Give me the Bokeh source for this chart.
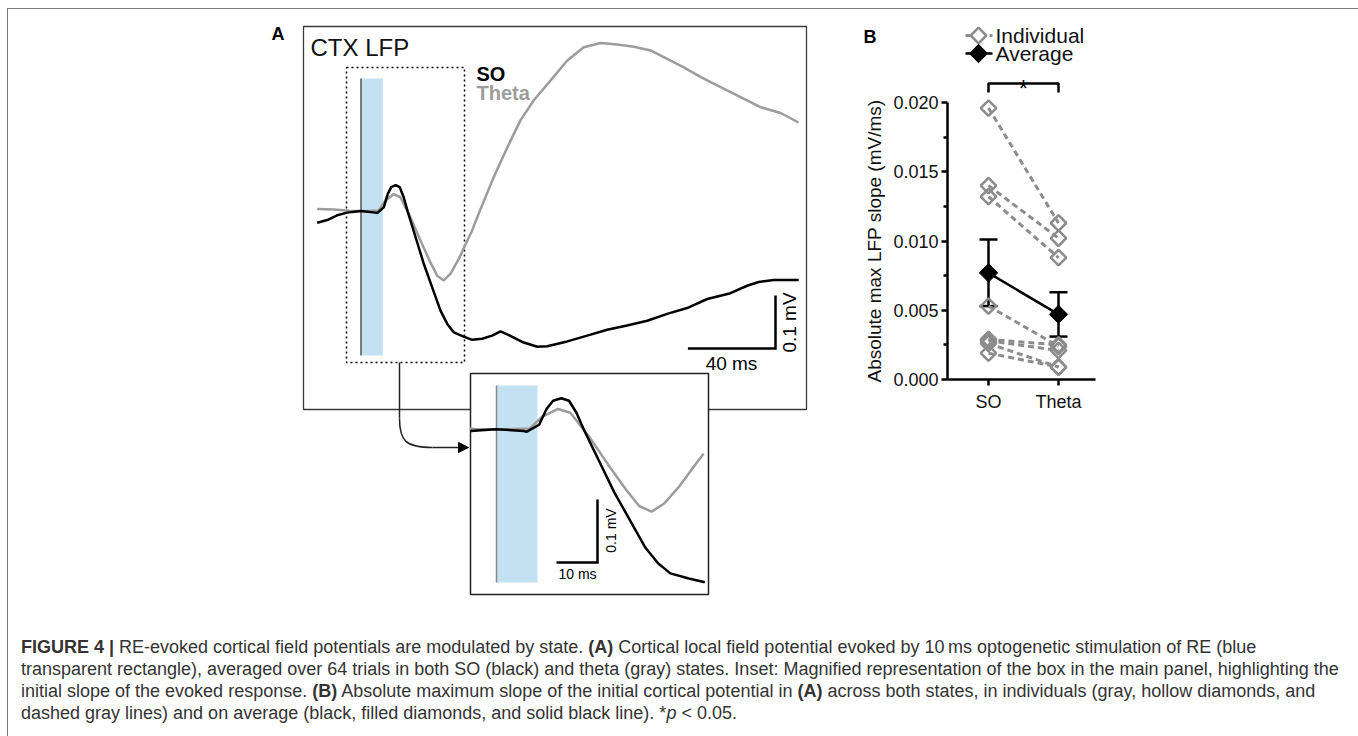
import math
from bokeh.plotting import figure
from bokeh.models import (Range1d, ColumnDataSource, Whisker, TeeHead, Arrow, NormalHead,
                          FixedTicker, PrintfTickFormatter, LinearAxis, Div)
from bokeh.layouts import column
from bokeh.core.properties import value
from bokeh.embed import file_html
from bokeh.resources import INLINE

FONT = "Liberation Sans"
BLACK = "#000000"
GRAY_T = "#9c9c9c"
GRAY_I = "#8c8c8c"
BLUE = "#c4e1f1"

# ---------------- Panel A data (time in ms from light onset, LFP in mV) ----------------
so_t = [-20.0, -15.4, -10.9, -6.3, -0.2, 6.6, 7.4, 10.4, 12.2, 13.8, 15.8, 17.7, 19.5, 21.4,
        24.9, 28.7, 32.5, 36.3, 39.4, 42.4, 46.9, 50.8, 55.3, 59.9, 63.7, 67.5, 73.6, 80.5,
        85.0, 94.2, 103.3, 112.4, 121.5, 130.7, 139.8, 148.9, 158.1, 168.7, 176.3, 181.6,
        188.5, 199.9]
so_v = [-0.023, -0.018, -0.009, -0.004, -0.001, -0.004, -0.005, 0.006, 0.031, 0.044, 0.048,
        0.044, 0.025, -0.003, -0.050, -0.101, -0.145, -0.189, -0.214, -0.230, -0.238, -0.244,
        -0.242, -0.236, -0.228, -0.235, -0.248, -0.257, -0.256, -0.247, -0.236, -0.225,
        -0.217, -0.208, -0.195, -0.184, -0.167, -0.156, -0.142, -0.135, -0.131, -0.131]
theta_t = [-20.0, -12.4, -6.5, -4.8, 2.8, 8.1, 11.2, 15.0, 18.0, 22.6, 27.2, 31.7, 34.8, 37.8,
           40.9, 44.7, 48.5, 50.5, 54.6, 60.6, 66.8, 72.8, 78.9, 86.5, 94.2, 101.7, 109.4,
           117.0, 124.6, 132.2, 139.8, 147.4, 155.0, 164.2, 173.3, 182.4, 191.6, 199.8]
theta_v = [0.003, 0.002, 0.000, -0.001, -0.001, 0.000, 0.019, 0.031, 0.025, -0.013, -0.057,
           -0.098, -0.123, -0.132, -0.119, -0.091, -0.057, -0.040, 0.003, 0.063, 0.119, 0.170,
           0.208, 0.245, 0.283, 0.308, 0.316, 0.313, 0.309, 0.302, 0.286, 0.270, 0.252, 0.233,
           0.214, 0.195, 0.184, 0.166]
stim_on, stim_off = 0.0, 10.0          # ms, optogenetic light pulse
scale_ms_main, scale_ms_inset = 40.0, 10.0
scale_mv = 0.1

# ---------------- Panel B data ----------------
categories = ["SO", "Theta"]
indiv_so = [0.0196, 0.0140, 0.0132, 0.0053, 0.0029, 0.0028, 0.0026, 0.0019]
indiv_theta = [0.0113, 0.0102, 0.0088, 0.0024, 0.0025, 0.0021, 0.0009, 0.0009]
avg_vals = [0.0077, 0.0047]
sem_vals = [0.0024, 0.0016]
y_ticks = [0.0, 0.005, 0.010, 0.015, 0.020]
y_minor_ticks = [0.0025, 0.0075, 0.0125, 0.0175]

# ---------------- layout constants (page pixels) ----------------
FX0, FY0 = 8, 9          # page position of the figure's top-left corner
W, H = 1345, 591         # top figure
HC = 127                 # caption block
# main panel mapping, inset mapping, panel B mapping (pixel of origin, pixels per unit)
M_X0, M_SX, M_Y0, M_SY = 360.5, 2.19, 210.0, 530.0
I_X0, I_SX, I_Y0, I_SY = 496.0, 4.1, 428.0, 630.0
B_X0, B_SX, B_Y0, B_SY = 988.0, 70.0, 379.0, 13850.0


def mt(px): return (px - M_X0) / M_SX
def mv(py): return (M_Y0 - py) / M_SY
def it(px): return (px - I_X0) / I_SX
def iv(py): return (I_Y0 - py) / I_SY
def bx(px): return (px - B_X0) / B_SX
def by(py): return (B_Y0 - py) / B_SY


F = value(FONT)

p = figure(width=W, height=H,
           x_range=Range1d(mt(FX0), mt(FX0 + W)),
           y_range=Range1d(mv(FY0 + H), mv(FY0)),
           x_axis_type=None, y_axis_type=None, min_border=0,
           outline_line_color=None, toolbar_location=None, output_backend="svg")
p.extra_x_ranges = {"ti": Range1d(it(FX0), it(FX0 + W)), "xb": Range1d(bx(FX0), bx(FX0 + W))}
p.extra_y_ranges = {"vi": Range1d(iv(FY0 + H), iv(FY0)), "yb": Range1d(by(FY0 + H), by(FY0))}

# ================= Panel A =================
p.quad(left=[mt(303)], right=[mt(806)], top=[mv(26)], bottom=[mv(409)],
       fill_color=None, line_color="#3a3a3a", line_width=1.3)
p.text(x=[mt(271)], y=[mv(33)], text=["A"], text_font=F, text_font_style="bold",
       text_font_size="18px", text_baseline="middle", text_align="left", text_color=BLACK)
p.quad(left=[stim_on], right=[stim_off], top=[mv(78)], bottom=[mv(355)],
       fill_color=BLUE, line_color=None)
p.segment(x0=[stim_on], x1=[stim_on], y0=[mv(78)], y1=[mv(355)], line_color="#555555",
          line_width=1.5)
p.quad(left=[mt(346)], right=[mt(464)], top=[mv(67)], bottom=[mv(362)], fill_color=None,
       line_color=BLACK, line_width=1.5, line_dash="2 3")
p.line(theta_t, theta_v, line_color=GRAY_T, line_width=2.5)
p.line(so_t, so_v, line_color=BLACK, line_width=2.5)
p.text(x=[mt(310)], y=[mv(47)], text=["CTX LFP"], text_font=F, text_font_size="24px",
       text_baseline="middle", text_align="left", text_color="#111111")
p.text(x=[mt(476)], y=[mv(73)], text=["SO"], text_font=F, text_font_style="bold",
       text_font_size="20px", text_baseline="middle", text_align="left", text_color=BLACK)
p.text(x=[mt(476)], y=[mv(92)], text=["Theta"], text_font=F, text_font_style="bold",
       text_font_size="20px", text_baseline="middle", text_align="left", text_color=GRAY_T)
sbt, sbv = mt(775), mv(348)
p.line([sbt - scale_ms_main, sbt, sbt], [sbv, sbv, sbv + scale_mv], line_color=BLACK,
       line_width=2.5, line_join="miter")
p.text(x=[mt(731)], y=[mv(363)], text=["40 ms"], text_font=F, text_font_size="19px",
       text_baseline="middle", text_align="center", text_color=BLACK)
p.text(x=[mt(789)], y=[mv(322)], text=["0.1 mV"], text_font=F, text_font_size="19px",
       text_baseline="middle", text_align="center", text_color=BLACK, angle=math.pi / 2)
xv = mt(399)
p.segment(x0=[xv], x1=[xv], y0=[mv(362)], y1=[mv(418)], line_color="#222222", line_width=1.5)
p.bezier(x0=[xv], y0=[mv(418)], x1=[mt(432)], y1=[mv(447)], cx0=[xv], cy0=[mv(441)],
         cx1=[mt(406)], cy1=[mv(447)], line_color="#222222", line_width=1.5)
p.add_layout(Arrow(end=NormalHead(size=10, fill_color=BLACK, line_color=BLACK),
                   x_start=mt(432), y_start=mv(447), x_end=mt(468), y_end=mv(447),
                   line_color="#222222", line_width=1.5))

# ---- inset ----
R = dict(x_range_name="ti", y_range_name="vi")
p.quad(left=[it(470)], right=[it(708)], top=[iv(373)], bottom=[iv(594)], fill_color="white",
       line_color="#222222", line_width=1.5, **R)
p.quad(left=[stim_on], right=[stim_off], top=[iv(385)], bottom=[iv(582)], fill_color=BLUE,
       line_color=None, **R)
p.segment(x0=[stim_on], x1=[stim_on], y0=[iv(385)], y1=[iv(582)], line_color="#8a8a8a",
          line_width=1.5, **R)
t_lo, t_hi = it(468), it(706)
th_in = [(t, v) for t, v in zip(theta_t, theta_v) if t_lo <= t <= t_hi]
so_in = [(t, v) for t, v in zip(so_t, so_v) if t_lo <= t <= t_hi]
p.line([a for a, b in th_in], [b for a, b in th_in], line_color=GRAY_T, line_width=2.5, **R)
p.line([a for a, b in so_in], [b for a, b in so_in], line_color=BLACK, line_width=2.5, **R)
ibt, ibv = it(597), iv(562)
p.line([ibt - scale_ms_inset, ibt, ibt], [ibv, ibv, ibv + scale_mv], line_color=BLACK,
       line_width=2.5, line_join="miter", **R)
p.text(x=[it(577)], y=[iv(573)], text=["10 ms"], text_font=F, text_font_size="14px",
       text_baseline="middle", text_align="center", text_color=BLACK, **R)
p.text(x=[it(610)], y=[iv(530)], text=["0.1 mV"], text_font=F, text_font_size="14px",
       text_baseline="middle", text_align="center", text_color=BLACK, angle=math.pi / 2, **R)

# ================= Panel B =================
B = dict(x_range_name="xb", y_range_name="yb")
n = len(indiv_so)
p.multi_line(xs=[[0, 1]] * n, ys=[[a, b] for a, b in zip(indiv_so, indiv_theta)],
             line_color=GRAY_I, line_width=3, line_dash="6 4", **B)
p.scatter(x=[0] * n + [1] * n, y=indiv_so + indiv_theta, marker="square", angle=math.pi / 4,
          size=11, fill_color=None, line_color=GRAY_I, line_width=2.5, **B)
p.line([0, 1], avg_vals, line_color=BLACK, line_width=2.5, **B)
err = ColumnDataSource(dict(x=[0, 1], upper=[a + s for a, s in zip(avg_vals, sem_vals)],
                            lower=[a - s for a, s in zip(avg_vals, sem_vals)]))
p.add_layout(Whisker(source=err, base="x", upper="upper", lower="lower", line_color=BLACK,
                     line_width=2.5,
                     upper_head=TeeHead(size=18, line_width=2.5, line_color=BLACK),
                     lower_head=TeeHead(size=18, line_width=2.5, line_color=BLACK), **B))
p.scatter(x=[0, 1], y=avg_vals, marker="square", angle=math.pi / 4, size=13,
          fill_color=BLACK, line_color=BLACK, line_width=1, **B)

# significance bracket
p.line([0, 0, 1, 1], [by(92), by(83), by(83), by(92)], line_color=BLACK, line_width=2.5, **B)
p.text(x=[0.5], y=[by(88)], text=["*"], text_font=F, text_font_size="24px",
       text_baseline="alphabetic", text_align="center", text_color=BLACK, **B)

# legend
lx0, lx1, lxm, ltx = bx(965), bx(992), bx(978), bx(995)
ly_ind, ly_avg = by(35), by(53)
p.line([lx0, lx1], [ly_ind, ly_ind], line_color=GRAY_I, line_width=3, line_dash="5 3", **B)
p.scatter(x=[lxm], y=[ly_ind], marker="square", angle=math.pi / 4, size=11, fill_color="white",
          line_color=GRAY_I, line_width=2.5, **B)
p.line([lx0, lx1], [ly_avg, ly_avg], line_color=BLACK, line_width=2.5, **B)
p.scatter(x=[lxm], y=[ly_avg], marker="square", angle=math.pi / 4, size=13, fill_color=BLACK,
          line_color=BLACK, line_width=1, **B)
p.text(x=[ltx, ltx], y=[ly_ind, ly_avg], text=["Individual", "Average"], text_font=F,
       text_font_size="21px", text_baseline="middle", text_align="left", text_color="#111111",
       **B)
p.text(x=[bx(863)], y=[by(36)], text=["B"], text_font=F, text_font_style="bold",
       text_font_size="18px", text_baseline="middle", text_align="left", text_color=BLACK, **B)

# axes of panel B, pinned at their data locations
yax = LinearAxis(x_range_name="xb", y_range_name="yb", fixed_location=bx(947),
                 bounds=(y_ticks[0], y_ticks[-1]),
                 ticker=FixedTicker(ticks=y_ticks, minor_ticks=y_minor_ticks),
                 formatter=PrintfTickFormatter(format="%.3f"),
                 axis_label="Absolute max LFP slope (mV/ms)")
xax = LinearAxis(x_range_name="xb", y_range_name="yb", fixed_location=0.0,
                 bounds=(bx(947), bx(1095)), ticker=FixedTicker(ticks=[0, 1]),
                 major_label_overrides={0: categories[0], 1: categories[1]})
xax.minor_tick_line_color = None
xax.major_label_standoff = 6
yax.minor_tick_in = 0
yax.minor_tick_out = 4
yax.major_label_standoff = 3
yax.axis_label_text_font = FONT
yax.axis_label_text_font_size = "19px"
yax.axis_label_text_font_style = "normal"
yax.axis_label_text_color = "#111111"
yax.axis_label_standoff = 5
for ax in (xax, yax):
    ax.axis_line_width = 2.5
    ax.axis_line_color = BLACK
    ax.major_tick_line_width = 2.5
    ax.major_tick_line_color = BLACK
    ax.minor_tick_line_width = 2.5
    ax.major_tick_in = 0
    ax.major_tick_out = 6
    ax.major_label_text_font = FONT
    ax.major_label_text_font_size = "18px"
    ax.major_label_text_color = "#111111"
yax.minor_tick_line_color = BLACK
p.add_layout(yax, "left")
p.add_layout(xax, "below")

# ================= Caption =================
caption = (
    "<div style=\"font-family:'Liberation Sans',Arial,sans-serif;font-size:18px;"
    "line-height:22px;color:#333333;padding:31px 0 0 8px;white-space:nowrap;\">"
    "<b>FIGURE 4 |</b> RE-evoked cortical field potentials are modulated by state. "
    "<b>(A)</b> Cortical local field potential evoked by 10&#8201;ms optogenetic stimulation of RE (blue<br>"
    "transparent rectangle), averaged over 64 trials in both SO (black) and theta (gray) states. "
    "Inset: Magnified representation of the box in the main panel, highlighting the<br>"
    "initial slope of the evoked response. <b>(B)</b> Absolute maximum slope of the initial "
    "cortical potential in <b>(A)</b> across both states, in individuals (gray, hollow diamonds, and<br>"
    "dashed gray lines) and on average (black, filled diamonds, and solid black line). "
    "*<i>p</i> &lt; 0.05.</div>"
)
cap = Div(text=caption, width=W, height=HC)

layout = column(p, cap, styles={"border": "1px solid #7a7a7a", "margin-left": "7px",
                                "margin-top": "8px"})

open("out.html", "w").write(file_html(layout, INLINE))
